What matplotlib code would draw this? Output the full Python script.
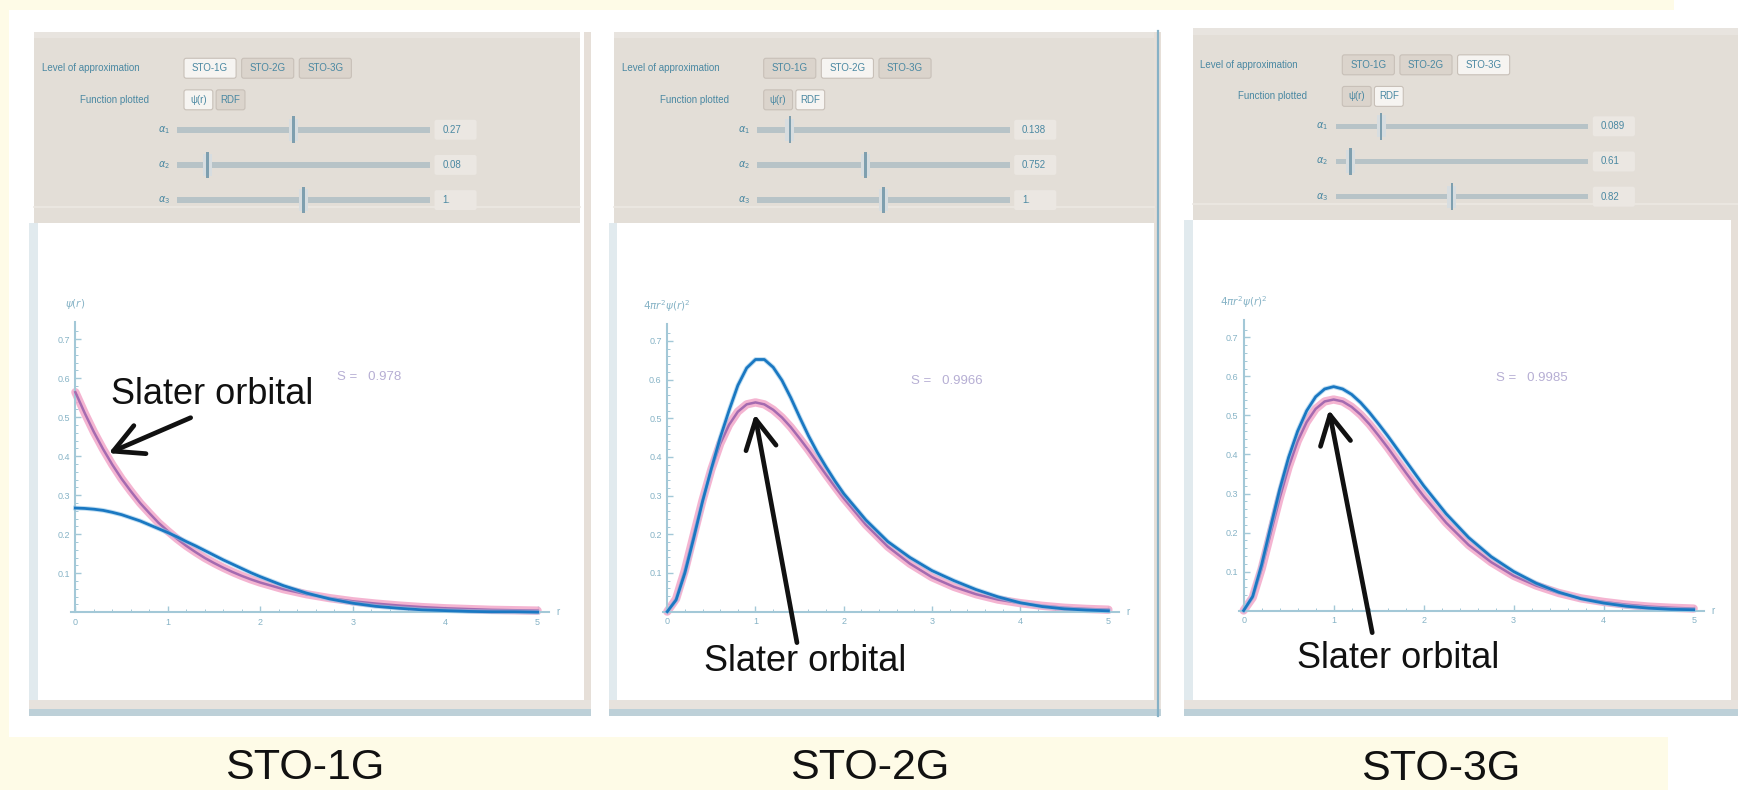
import matplotlib.pyplot as plt
from matplotlib.patches import Rectangle, FancyBboxPatch

plt.rcParams['font.family'] = ['Liberation Sans', 'DejaVu Sans']

W, H = 1568, 713   # layout units = pixels of the reference view

r = [0.0, 0.1, 0.2, 0.3, 0.4, 0.5, 0.6, 0.7, 0.8, 0.9, 1.0, 1.1, 1.2, 1.3, 1.4,
     1.5, 1.6, 1.7, 1.8, 1.9, 2.0, 2.25, 2.5, 2.75, 3.0, 3.25, 3.5, 3.75, 4.0,
     4.25, 4.5, 4.75, 5.0]

# STO-1G panel: psi(r)
slater_psi = [0.564, 0.511, 0.462, 0.418, 0.378, 0.342, 0.310, 0.280, 0.254, 0.229,
              0.208, 0.188, 0.170, 0.154, 0.139, 0.126, 0.114, 0.103, 0.093, 0.084,
              0.076, 0.059, 0.046, 0.036, 0.028, 0.022, 0.017, 0.013, 0.010, 0.008,
              0.006, 0.005, 0.004]
sto1g_psi = [0.267, 0.266, 0.264, 0.261, 0.256, 0.250, 0.242, 0.234, 0.224, 0.214,
             0.204, 0.193, 0.181, 0.170, 0.158, 0.146, 0.134, 0.123, 0.112, 0.101,
             0.091, 0.068, 0.049, 0.034, 0.023, 0.015, 0.010, 0.006, 0.004, 0.002,
             0.001, 0.001, 0.000]

# STO-2G / STO-3G panels: radial distribution
slater_rdf = [0.000, 0.033, 0.107, 0.198, 0.288, 0.368, 0.434, 0.483, 0.517, 0.536,
              0.541, 0.536, 0.522, 0.502, 0.477, 0.448, 0.418, 0.386, 0.354, 0.323,
              0.293, 0.225, 0.168, 0.124, 0.089, 0.064, 0.045, 0.031, 0.022, 0.015,
              0.010, 0.007, 0.005]
sto2g_rdf = [0.000, 0.030, 0.100, 0.190, 0.285, 0.370, 0.450, 0.520, 0.585, 0.630,
             0.652, 0.652, 0.632, 0.598, 0.553, 0.503, 0.455, 0.412, 0.374, 0.338,
             0.305, 0.237, 0.181, 0.140, 0.106, 0.080, 0.057, 0.038, 0.023, 0.013,
             0.007, 0.004, 0.002]
sto3g_rdf = [0.000, 0.036, 0.118, 0.215, 0.310, 0.393, 0.460, 0.512, 0.548, 0.568,
             0.574, 0.568, 0.554, 0.533, 0.507, 0.478, 0.448, 0.416, 0.384, 0.352,
             0.320, 0.248, 0.187, 0.138, 0.100, 0.070, 0.047, 0.030, 0.019, 0.011,
             0.006, 0.003, 0.002]

titles = ['STO-1G', 'STO-2G', 'STO-3G']
level_buttons = ['STO-1G', 'STO-2G', 'STO-3G']
func_buttons = ['ψ(r)', 'RDF']
func_selected = [0, 1, 1]
slider_names = [r'$\alpha_1$', r'$\alpha_2$', r'$\alpha_3$']
slider_pos = [[0.46, 0.12, 0.50], [0.13, 0.43, 0.50], [0.18, 0.06, 0.46]]
slider_text = [['0.27', '0.08', '1.'], ['0.138', '0.752', '1.'], ['0.089', '0.61', '0.82']]
overlap_text = ['S =   0.978', 'S =   0.9966', 'S =   0.9985']
y_names = [r'$\psi(r)$', r'$4\pi r^2\psi(r)^2$', r'$4\pi r^2\psi(r)^2$']
x_ticks = [0, 1, 2, 3, 4, 5]
y_ticks = [0.1, 0.2, 0.3, 0.4, 0.5, 0.6, 0.7]

# panel geometry in layout units
panel_l = [26, 549, 1068]
panel_r = [533, 1047, 1568]
gray_l = [31, 554, 1076]
gray_r = [523, 1041, 1568]
gray_t = [28.6, 28.6, 25.5]
gray_b = [201, 201, 198.5]
origin = [(68, 552.5), (602, 552), (1122, 551)]
scale = [(83.4, 352), (79.6, 349), (81.2, 352)]
note_xy = [(304, 340), (822, 344), (1350, 341)]
slater_txt = [(100, 365), (635, 606), (1170, 603)]
arrow_head = [(98, 409), (681, 374), (1199, 370)]
arrow_tail = [(172, 377), (719, 580), (1238, 571)]
title_xy = [(275, 703), (785, 703), (1300, 704)]

cream = '#fefbe7'
ctrl = '#4a88a2'
axis_col = '#a3c8d7'
tick_col = '#86b3c6'

fig = plt.figure(figsize=(17.38, 7.90), dpi=100)
fig.patch.set_facecolor(cream)

bg = fig.add_axes([0, 0, 1, 1])
bg.set_xlim(0, W)
bg.set_ylim(H, 0)
bg.axis('off')


def box(x0, y0, x1, y1, fc, ec='none', lw=0, z=1):
    bg.add_patch(Rectangle((x0, y0), x1 - x0, y1 - y0, facecolor=fc,
                           edgecolor=ec, linewidth=lw, zorder=z))


def button(x0, yc, w, label, on):
    fc = '#f6f4f1' if on else '#dbd4cc'
    bg.add_patch(FancyBboxPatch((x0, yc - 9), w, 18,
                                boxstyle='round,pad=0,rounding_size=2',
                                facecolor=fc, edgecolor='#c8c0b8', linewidth=0.8, zorder=3))
    bg.text(x0 + w / 2, yc, label, fontsize=7, color=ctrl, ha='center', va='center', zorder=4)


# white screenshot area
box(8, 9, W, 665, 'white', z=0)
box(1510, 0, W, 9, 'white', z=0)
box(1505, 665, W, H, 'white', z=0)

for i in range(3):
    pl, pr, gl, gr, gt, gb = panel_l[i], panel_r[i], gray_l[i], gray_r[i], gray_t[i], gray_b[i]
    # frame of the notebook output cell
    box(pl, gb, pl + 8, 632, '#e1eaee')
    box(pr - 6, gt, pr, 640, '#e6dfd8')
    box(pl, 632, pr, 640, '#e7e2dd')
    box(pl, 640, pr, 646, '#bdd0d8')
    box(gl, gt, gr, gb, '#e3ded7', z=2)
    box(gl, gt, gr, gt + 6, '#e8e4df', z=2)
    bg.plot([gl, gr], [gb - 14, gb - 14], color='#ece8e3', lw=1.2, zorder=2)

    # control rows
    y1 = gt + 33
    bg.text(gl + 7, y1, 'Level of approximation', fontsize=7, color=ctrl, va='center', zorder=4)
    x = gl + 135
    for j, lab in enumerate(level_buttons):
        button(x, y1, 47, lab, j == i)
        x += 52
    y2 = gt + 61.5
    bg.text(gl + 41, y2, 'Function plotted', fontsize=7, color=ctrl, va='center', zorder=4)
    x = gl + 135
    for j, lab in enumerate(func_buttons):
        button(x, y2, 26, lab, j == func_selected[i])
        x += 29

    for k in range(3):
        ys = gt + 88.5 + 31.75 * k
        bg.text(gl + 117, ys, slider_names[k], fontsize=7, color=ctrl,
                ha='center', va='center', zorder=4)
        box(gl + 129, ys - 2.5, gl + 357, ys + 2.5, '#b7c3c7', z=3)
        tx = gl + 129 + slider_pos[i][k] * 228
        box(tx - 4, ys - 10, tx + 4, ys + 10, '#d7dde0', z=3)
        box(tx - 1.2, ys - 12, tx + 1.2, ys + 12, '#7e9faf', z=4)
        bg.add_patch(FancyBboxPatch((gl + 361, ys - 9), 38, 18,
                                    boxstyle='round,pad=0,rounding_size=2',
                                    facecolor='#ebe7e2', edgecolor='none', zorder=3))
        bg.text(gl + 368, ys, slider_text[i][k], fontsize=7, color=ctrl, va='center', zorder=4)

    bg.text(note_xy[i][0], note_xy[i][1], overlap_text[i], fontsize=9.5,
            color='#7a6cb0', alpha=0.55, va='center', zorder=4)

# blue separator at right edge of the middle panel
bg.plot([1045, 1045], [28, 646], color='#86b1c6', lw=1.6, zorder=3)

# the three plots
fits = [sto1g_psi, sto2g_rdf, sto3g_rdf]
refs = [slater_psi, slater_rdf, slater_rdf]
xmin, xmax, ymin, ymax = -0.06, 5.22, -0.03, 0.76
for i in range(3):
    ox, oy = origin[i]
    sx, sy = scale[i]
    left, right = ox + xmin * sx, ox + xmax * sx
    top, bottom = oy - ymax * sy, oy - ymin * sy
    ax = fig.add_axes([left / W, 1 - bottom / H, (right - left) / W, (bottom - top) / H])
    ax.patch.set_alpha(0)
    ax.set_xlim(xmin, xmax)
    ax.set_ylim(ymin, ymax)
    for s in ['top', 'right']:
        ax.spines[s].set_visible(False)
    ax.spines['left'].set_position(('data', 0))
    ax.spines['bottom'].set_position(('data', 0))
    ax.spines['left'].set_bounds(0, 0.745)
    ax.spines['bottom'].set_bounds(-0.05, 5.12)
    for s in ['left', 'bottom']:
        ax.spines[s].set_color(axis_col)
        ax.spines[s].set_linewidth(1.5)
    ax.set_xticks(x_ticks)
    ax.set_xticklabels([str(v) for v in x_ticks])
    ax.set_yticks(y_ticks)
    ax.set_yticklabels([str(v) for v in y_ticks])
    ax.set_xticks([v / 5 for v in range(1, 26)], minor=True)
    ax.set_yticks([v / 50 for v in range(1, 37)], minor=True)
    ax.tick_params(which='major', direction='in', length=4, width=1, color=axis_col,
                   labelcolor=tick_col, labelsize=6.5, pad=4)
    ax.tick_params(which='minor', direction='in', length=2, width=0.7, color=axis_col)

    ax.plot(r, refs[i], color='#f3a7c9', lw=6, alpha=0.85, solid_capstyle='round', zorder=2)
    ax.plot(r, refs[i], color='#a46bb0', lw=1.8, zorder=3)
    ax.plot(r, fits[i], color='#8ec3e6', lw=3.4, alpha=0.55, zorder=4)
    ax.plot(r, fits[i], color='#1a78c2', lw=2.0, zorder=5)

    ax.text(0, 0.79, y_names[i], fontsize=7.5, color=tick_col, ha='center', va='center')
    ax.text(5.2, 0, 'r', fontsize=7, color=tick_col, ha='left', va='center')

# overlay: annotations and captions
ov = fig.add_axes([0, 0, 1, 1])
ov.set_xlim(0, W)
ov.set_ylim(H, 0)
ov.axis('off')
ov.patch.set_alpha(0)
for i in range(3):
    ov.text(slater_txt[i][0], slater_txt[i][1], 'Slater orbital', fontsize=26,
            color='#111111', ha='left', va='baseline')
    ov.annotate('', xy=arrow_head[i], xytext=arrow_tail[i], xycoords='data',
                arrowprops=dict(arrowstyle='->,head_length=0.95,head_width=0.5',
                                lw=3.4, color='#111111', mutation_scale=22,
                                shrinkA=0, shrinkB=0))
    ov.text(title_xy[i][0], title_xy[i][1], titles[i], fontsize=31,
            color='#111111', ha='center', va='baseline')

fig.savefig('out.png', dpi=100, facecolor=fig.get_facecolor())
